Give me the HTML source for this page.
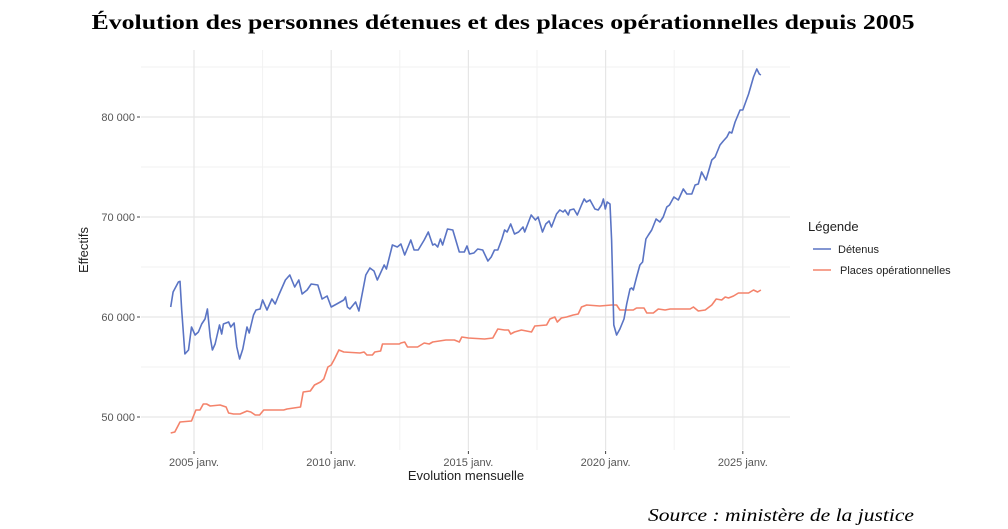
<!DOCTYPE html>
<html><head><meta charset="utf-8"><style>
html,body{margin:0;padding:0;background:#fff;}
svg{display:block;}
</style></head><body>
<svg id="chart" width="1008" height="529" viewBox="0 0 1008 529" xmlns="http://www.w3.org/2000/svg">
<text x="503" y="29" text-anchor="middle" font-family="Liberation Serif, serif" font-weight="bold" font-size="21" textLength="823" lengthAdjust="spacingAndGlyphs">Évolution des personnes détenues et des places opérationnelles depuis 2005</text>
<g id="grid"></g>
<g id="axes"></g>
<g id="series"></g>
<text x="88" y="250" transform="rotate(-90 88 250)" text-anchor="middle" font-family="Liberation Sans, sans-serif" font-size="13" fill="#222">Effectifs</text>
<text x="466" y="480" text-anchor="middle" font-family="Liberation Sans, sans-serif" font-size="13" fill="#222">Evolution mensuelle</text>
<g>
<text x="808" y="231" font-family="Liberation Sans, sans-serif" font-size="13" fill="#222">Légende</text>
<g>
<line x1="813" y1="249" x2="831" y2="249" stroke="#5a74c4" stroke-width="1.6"/>
<text x="838" y="253" font-family="Liberation Sans, sans-serif" font-size="11" fill="#222">Détenus</text>
</g>
<g>
<line x1="813" y1="270" x2="831" y2="270" stroke="#f4836b" stroke-width="1.6"/>
<text x="840" y="274" font-family="Liberation Sans, sans-serif" font-size="11" fill="#222">Places opérationnelles</text>
</g>
</g>
<text x="914" y="521" text-anchor="end" font-family="Liberation Serif, serif" font-style="italic" font-size="18" textLength="266" lengthAdjust="spacingAndGlyphs">Source : ministère de la justice</text>
</svg>
<script>
const detenusYears=[2004.15,2004.24,2004.43,2004.49,2004.55,2004.67,2004.8,2004.91,2005.04,2005.16,2005.28,2005.4,2005.49,2005.59,2005.67,2005.77,2005.93,2006.01,2006.07,2006.26,2006.34,2006.46,2006.56,2006.66,2006.78,2006.93,2007.01,2007.17,2007.26,2007.41,2007.5,2007.66,2007.84,2007.96,2008.09,2008.33,2008.49,2008.67,2008.82,2008.94,2009.12,2009.27,2009.51,2009.67,2009.85,2010.0,2010.2,2010.46,2010.52,2010.59,2010.68,2010.89,2011.01,2011.26,2011.41,2011.56,2011.68,2011.93,2012.01,2012.23,2012.41,2012.54,2012.68,2012.9,2013.02,2013.17,2013.39,2013.54,2013.7,2013.78,2013.88,2013.98,2014.06,2014.24,2014.43,2014.67,2014.85,2014.95,2015.04,2015.2,2015.34,2015.52,2015.71,2015.83,2015.95,2016.07,2016.22,2016.32,2016.41,2016.54,2016.68,2016.83,2016.99,2017.05,2017.29,2017.44,2017.54,2017.7,2017.82,2017.94,2018.03,2018.21,2018.33,2018.45,2018.52,2018.64,2018.7,2018.84,2018.97,2019.12,2019.22,2019.3,2019.43,2019.61,2019.73,2019.85,2019.92,2019.99,2020.06,2020.16,2020.22,2020.3,2020.4,2020.52,2020.67,2020.77,2020.89,2020.95,2021.01,2021.13,2021.25,2021.35,2021.47,2021.56,2021.68,2021.84,2021.98,2022.1,2022.23,2022.33,2022.49,2022.65,2022.83,2022.96,2023.14,2023.26,2023.38,2023.5,2023.66,2023.87,2023.99,2024.17,2024.29,2024.42,2024.51,2024.6,2024.72,2024.9,2025.0,2025.21,2025.39,2025.51,2025.6,2025.66];
const detenusValues=[61000,62500,63500,63570,60700,56300,56700,59000,58200,58500,59300,59800,60800,58000,56700,57300,59200,58300,59300,59500,59000,59400,57000,55800,56800,59000,58400,60200,60700,60800,61700,60700,61800,61300,62200,63700,64200,63000,63700,62300,62700,63300,63200,61800,62100,61000,61300,61700,62000,61000,60800,61500,60600,64200,64900,64600,63700,65200,64800,67200,67000,67300,66200,67700,66700,66700,67700,68500,67200,67300,67000,67800,67200,68800,68700,66500,66500,67100,66300,66400,66800,66700,65600,66000,66700,66700,67800,68700,68500,69300,68300,68500,69000,68500,70200,69700,70000,68500,69300,69600,69000,70300,70700,70500,70700,70200,70700,70800,70200,71200,71800,71500,71700,70800,70700,71200,71800,70800,71500,71300,67700,59200,58200,58800,59800,61300,62800,62900,62700,64000,65200,65500,67800,68200,68700,69800,69500,70000,71000,71200,72000,71700,72800,72300,72300,73200,73300,74500,73700,75700,76000,77200,77600,78000,78500,78400,79500,80700,80700,82300,84000,84800,84300,84200];
const placesYears=[2004.15,2004.3,2004.49,2004.91,2005.07,2005.22,2005.34,2005.46,2005.59,2005.95,2006.17,2006.26,2006.44,2006.68,2006.93,2007.07,2007.23,2007.39,2007.54,2007.72,2008.27,2008.39,2008.88,2008.98,2009.24,2009.39,2009.61,2009.73,2009.88,2010.0,2010.12,2010.28,2010.46,2011.05,2011.2,2011.3,2011.5,2011.59,2011.8,2011.87,2012.48,2012.54,2012.68,2012.78,2013.15,2013.39,2013.57,2013.7,2014.18,2014.49,2014.67,2014.76,2015.0,2015.59,2015.89,2016.07,2016.32,2016.46,2016.54,2016.68,2016.93,2017.3,2017.42,2017.85,2017.97,2018.15,2018.24,2018.39,2018.58,2018.82,2019.0,2019.12,2019.31,2019.79,2020.22,2020.4,2020.52,2021.01,2021.13,2021.4,2021.5,2021.74,2021.92,2022.17,2022.35,2023.08,2023.2,2023.38,2023.63,2023.87,2024.03,2024.23,2024.36,2024.48,2024.66,2024.84,2025.21,2025.39,2025.54,2025.66];
const placesValues=[48400,48500,49500,49600,50700,50700,51300,51300,51100,51200,51000,50400,50300,50300,50600,50500,50200,50200,50700,50700,50700,50800,51000,52500,52600,53200,53500,53800,55000,55200,55800,56700,56500,56400,56500,56200,56200,56500,56600,57300,57300,57400,57500,57000,57000,57400,57300,57500,57700,57700,57500,58000,57900,57800,57900,58800,58700,58700,58300,58500,58700,58500,59100,59200,59800,60000,59500,59900,60000,60200,60300,61000,61200,61100,61200,61200,60700,60700,60900,60900,60400,60400,60800,60700,60800,60800,61000,60600,60700,61200,61800,61700,62000,61900,62100,62400,62400,62700,62500,62700];
const yTicks=[50000,60000,70000,80000];
const yTickLabels=["50 000","60 000","70 000","80 000"];
const yMinor=[55000,65000,75000,85000];
const xTicks=[2005,2010,2015,2020,2025];
const xTickLabels=["2005 janv.","2010 janv.","2015 janv.","2020 janv.","2025 janv."];
const xMinor=[2007.5,2012.5,2017.5,2022.5];

const PL=141,PR=790,PT=50,PB=450;
const yScale=v=>417-(v-50000)*0.01;
const xScale=t=>194+(t-2005)*27.44;
const NS="http://www.w3.org/2000/svg";
function mk(tag,attrs,parent){const e=document.createElementNS(NS,tag);for(const k in attrs)e.setAttribute(k,attrs[k]);parent.appendChild(e);return e;}
const grid=document.getElementById('grid'),axes=document.getElementById('axes'),series=document.getElementById('series');
yMinor.forEach(v=>{const l=mk('line',{x1:PL,x2:PR,y1:yScale(v),y2:yScale(v),stroke:'#f2f2f2','stroke-width':1},grid);

});
xMinor.forEach(v=>{const l=mk('line',{x1:xScale(v),x2:xScale(v),y1:PT,y2:PB,stroke:'#f2f2f2','stroke-width':1},grid);

});
yTicks.forEach((v,i)=>{const y=yScale(v);
const l=mk('line',{x1:PL,x2:PR,y1:y,y2:y,stroke:'#e6e6e6','stroke-width':1.2},grid);


const t=mk('line',{x1:PL-4,x2:PL-1,y1:y,y2:y,stroke:'#444','stroke-width':1},axes);


const tx=mk('text',{x:PL-6,y:y+4,'text-anchor':'end','font-family':'Liberation Sans, sans-serif','font-size':11,fill:'#555'},axes);
tx.textContent=yTickLabels[i];

});
xTicks.forEach((v,i)=>{const x=xScale(v);
const l=mk('line',{x1:x,x2:x,y1:PT,y2:PB,stroke:'#e6e6e6','stroke-width':1.2},grid);


const t=mk('line',{x1:x,x2:x,y1:PB+1,y2:PB+4,stroke:'#444','stroke-width':1},axes);


const tx=mk('text',{x:x,y:PB+16,'text-anchor':'middle','font-family':'Liberation Sans, sans-serif','font-size':11,fill:'#555'},axes);
tx.textContent=xTickLabels[i];

});
function line(xs,vs,color,name){const d=xs.map((t,i)=>(i?'L':'M')+xScale(t).toFixed(1)+','+yScale(vs[i]).toFixed(1)).join('');
const p=mk('path',{d:d,fill:'none',stroke:color,'stroke-width':1.6,'stroke-linejoin':'round'},series);

}
line(placesYears,placesValues,'#f4836b','places-line');
line(detenusYears,detenusValues,'#5a74c4','detenus-line');
</script>
</body></html>
